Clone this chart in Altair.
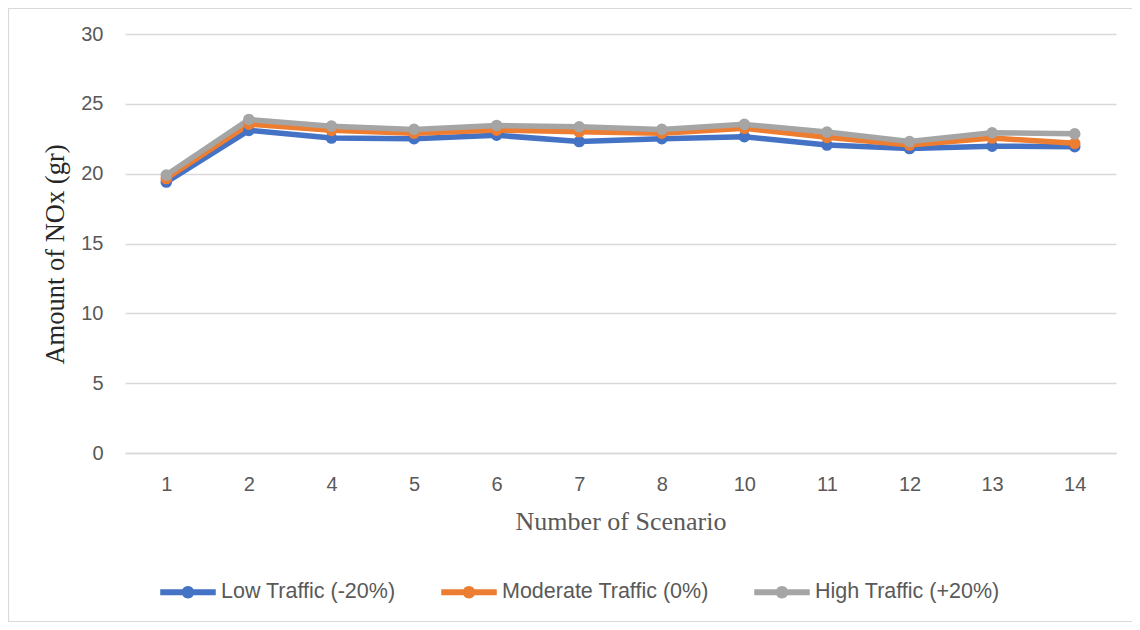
import altair as alt
import pandas as pd

scenarios = ["1", "2", "4", "5", "6", "7", "8", "10", "11", "12", "13", "14"]
low = [19.4, 23.1, 22.55, 22.5, 22.75, 22.3, 22.5, 22.65, 22.05, 21.8, 21.97, 21.93]
moderate = [19.65, 23.55, 23.1, 22.9, 23.12, 23.0, 22.9, 23.25, 22.6, 22.05, 22.55, 22.17]
high = [19.9, 23.88, 23.4, 23.17, 23.45, 23.36, 23.17, 23.53, 22.98, 22.3, 22.93, 22.85]
series_names = ["Low Traffic (-20%)", "Moderate Traffic (0%)", "High Traffic (+20%)"]
series_colors = ["#4472C4", "#ED7D31", "#A5A5A5"]

rows = []
for name, vals in zip(series_names, [low, moderate, high]):
    for s, v in zip(scenarios, vals):
        rows.append({"Scenario": s, "Value": v, "Series": name})
df = pd.DataFrame(rows)

W, H = 991, 419
LABEL_FONT = "Liberation Sans"
SERIF = "Liberation Serif"

x_enc = alt.X("Scenario:O", sort=scenarios,
              scale=alt.Scale(type="point", padding=0.5),
              axis=alt.Axis(title="Number of Scenario", labelAngle=0, ticks=False,
                            domainColor="#D9D9D9", domainWidth=1.5,
                            labelColor="#595959", labelFont=LABEL_FONT, labelFontSize=20,
                            labelPadding=21, titleFont=SERIF, titleFontSize=26,
                            titleFontWeight="normal", titleColor="#595959",
                            titleX=W / 2, titleY=76, titleBaseline="alphabetic",
                            titleAlign="center"))
y_enc = alt.Y("Value:Q", scale=alt.Scale(domain=[0, 30]),
              axis=alt.Axis(title="Amount of NOx (gr)", values=[0, 5, 10, 15, 20, 25, 30],
                            ticks=False, domain=False, gridColor="#D9D9D9", gridWidth=1.5,
                            labelColor="#595959", labelFont=LABEL_FONT, labelFontSize=20,
                            labelPadding=22, titleFont=SERIF, titleFontSize=26.5,
                            titleFontWeight="normal", titleColor="#262626",
                            titleX=-62, titleY=220, titleAngle=270,
                            titleBaseline="alphabetic", titleAlign="center"))

legend_symbol = ("M-1,-0.11 L1,-0.11 L1,0.11 L-1,0.11 Z "
                 "M0.225,0 A0.225,0.225 0 1,1 -0.225,0 A0.225,0.225 0 1,1 0.225,0 Z")

color_enc = alt.Color("Series:N", sort=series_names,
                      scale=alt.Scale(domain=series_names, range=series_colors),
                      legend=alt.Legend(title=None, orient="none", direction="horizontal",
                                        legendX=35, legendY=530,
                                        symbolType=legend_symbol, symbolSize=3080,
                                        symbolStrokeWidth=0, symbolOpacity=1,
                                        labelFont=LABEL_FONT, labelFontSize=21.5,
                                        labelLimit=400,
                                        labelColor="#595959", columnPadding=45,
                                        labelOffset=5, symbolOffset=0))

base = alt.Chart(df).encode(x=x_enc, y=y_enc, color=color_enc, detail="Series:N")

lines = base.mark_line(strokeWidth=5.5, strokeCap="round", strokeJoin="round")
points = base.mark_point(filled=True, size=135, opacity=1)

border = alt.Chart(pd.DataFrame({"a": [0]})).mark_rect(
    fill="white", fillOpacity=0, stroke="#D9D9D9", strokeWidth=1.2, clip=False
).encode(x=alt.value(-116.5), x2=alt.value(1040), y=alt.value(-25.5), y2=alt.value(587.5))

chart = alt.layer(border, lines, points).properties(
    width=W, height=H,
    autosize=alt.AutoSizeParams(type="none"),
    padding={"left": 117, "top": 26, "right": 16, "bottom": 169},
    background="white",
).configure_view(stroke=None)

chart.save("out.html", embed_options={"renderer": "svg", "actions": False})
